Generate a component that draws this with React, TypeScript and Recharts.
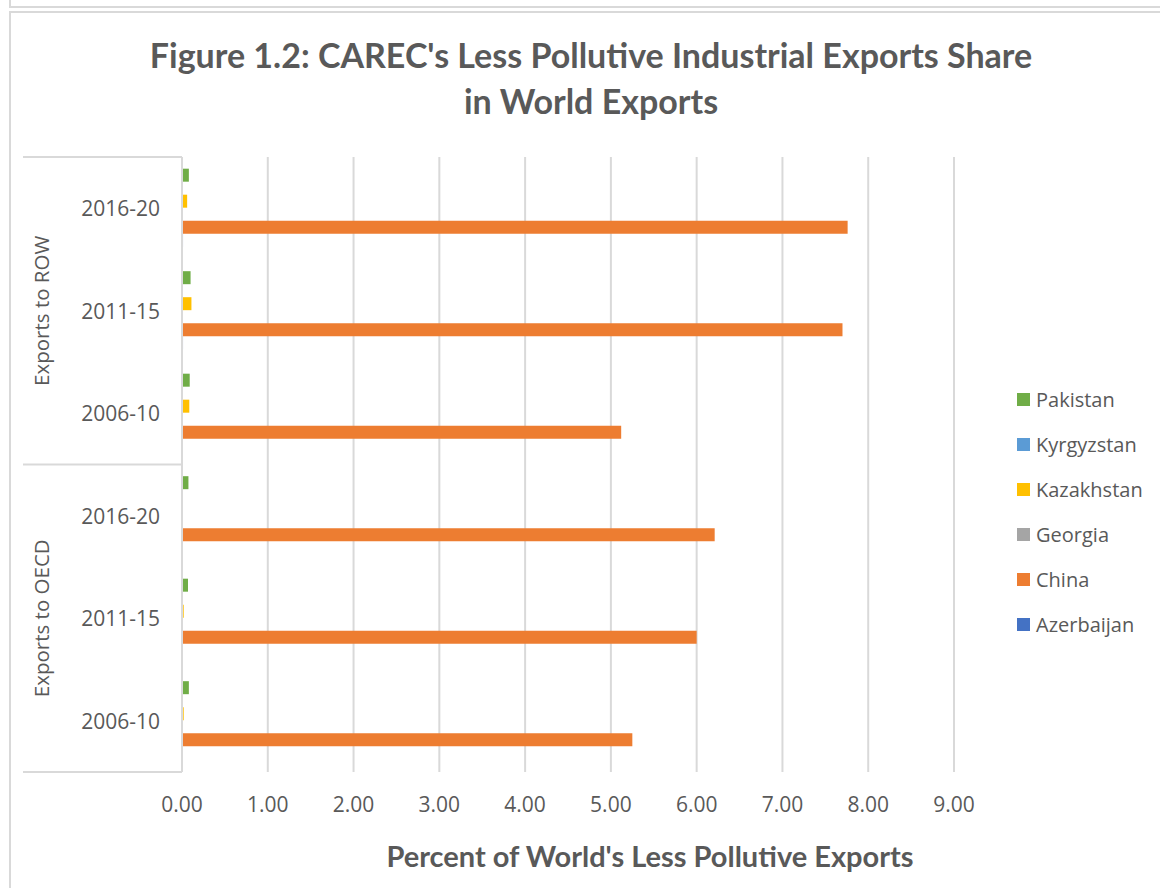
import { BarChart, Bar, XAxis, YAxis, CartesianGrid } from 'recharts';

// category rows, listed top to bottom as drawn
const groups = ['Exports to ROW', 'Exports to ROW', 'Exports to ROW', 'Exports to OECD', 'Exports to OECD', 'Exports to OECD'];
const periods = ['2016-20', '2011-15', '2006-10', '2016-20', '2011-15', '2006-10'];

// share of world's less pollutive exports, percent
const pakistan = [0.08, 0.10, 0.09, 0.075, 0.07, 0.08];
const kyrgyzstan = [0.001, 0.002, 0.001, 0.0005, 0.0005, 0.0005];
const kazakhstan = [0.06, 0.11, 0.085, 0.004, 0.02, 0.02];
const georgia = [0.005, 0.004, 0.003, 0.002, 0.002, 0.002];
const china = [7.76, 7.7, 5.12, 6.21, 6.0, 5.25];
const azerbaijan = [0.012, 0.012, 0.008, 0.002, 0.002, 0.002];

const xTicks = [0, 1, 2, 3, 4, 5, 6, 7, 8, 9];

const series = [
  { key: 'Pakistan', values: pakistan, color: '#70AD47' },
  { key: 'Kyrgyzstan', values: kyrgyzstan, color: '#5B9BD5' },
  { key: 'Kazakhstan', values: kazakhstan, color: '#FFC000' },
  { key: 'Georgia', values: georgia, color: '#A5A5A5' },
  { key: 'China', values: china, color: '#ED7D31' },
  { key: 'Azerbaijan', values: azerbaijan, color: '#4472C4' },
];

const data = periods.map((p, i) => {
  const row: Record<string, string | number> = { id: `${groups[i]} ${p}`, period: p, group: groups[i] };
  series.forEach((s) => {
    row[s.key] = s.values[i];
  });
  return row;
});

const W = 1160;
const H = 888;
const MARGIN = { top: 157, right: 206, bottom: 76, left: 0 };
const Y_AXIS_W = 182;
const X_AXIS_H = 40;
const PLOT_H = H - MARGIN.top - MARGIN.bottom - X_AXIS_H;
const BAND = PLOT_H / data.length;

const TEXT = '#595959';
const LINE = '#d9d9d9';
const FONT = '"Open Sans", sans-serif';
const TITLE_FONT = 'Lato, sans-serif';

function CategoryTick(props: any) {
  const { x, y, index } = props;
  const row = data[index];
  const firstOfGroup = index === 0 || data[index - 1].group !== row.group;
  const midOfGroup = index % 3 === 1;
  const last = index === data.length - 1;
  return (
    <g>
      <text x={x} y={y} textAnchor="end" dominantBaseline="central" fill={TEXT} fontSize={21} fontFamily={FONT}>
        {row.period}
      </text>
      {firstOfGroup && <line x1={23} x2={Y_AXIS_W} y1={y - BAND / 2} y2={y - BAND / 2} stroke={LINE} strokeWidth={2} />}
      {last && <line x1={23} x2={Y_AXIS_W} y1={y + BAND / 2} y2={y + BAND / 2} stroke={LINE} strokeWidth={2} />}
      {midOfGroup && (
        <text
          x={41}
          y={y}
          transform={`rotate(-90 41 ${y})`}
          textAnchor="middle"
          dominantBaseline="central"
          fill={TEXT}
          fontSize={20.5}
          fontFamily={FONT}
        >
          {row.group}
        </text>
      )}
    </g>
  );
}

export default function App() {
  return (
    <div style={{ position: 'absolute', left: 0, top: 0, width: W, height: H, background: '#fff', overflow: 'hidden' }}>
      <div style={{ position: 'absolute', left: 9, top: -10, width: W, height: 16, borderLeft: `2px solid ${LINE}`, borderBottom: `2px solid ${LINE}` }} />
      <div style={{ position: 'absolute', left: 9, top: 11, width: W, height: H, borderLeft: `2px solid ${LINE}`, borderTop: `2px solid ${LINE}` }} />

      <div
        style={{
          position: 'absolute',
          left: 0,
          top: 32,
          width: 1182,
          textAlign: 'center',
          fontFamily: TITLE_FONT,
          fontWeight: 700,
          fontSize: 34,
          lineHeight: '46px',
          color: TEXT,
        }}
      >
        Figure 1.2: CAREC's Less Pollutive Industrial Exports Share
        <br />
        in World Exports
      </div>

      <BarChart
        style={{ position: 'absolute', left: 0, top: 0 }}
        width={W}
        height={H}
        data={data}
        layout="vertical"
        margin={MARGIN}
        barCategoryGap="11.4%"
        barGap={0}
      >
        <CartesianGrid horizontal={false} stroke={LINE} strokeWidth={2} />
        <XAxis
          type="number"
          domain={[0, 9]}
          ticks={xTicks}
          height={X_AXIS_H}
          axisLine={false}
          tickLine={false}
          tickSize={0}
          tickMargin={25}
          tickFormatter={(v: number) => v.toFixed(2)}
          tick={{ fill: TEXT, fontSize: 21, fontFamily: FONT }}
        />
        <YAxis
          type="category"
          dataKey="id"
          width={Y_AXIS_W}
          axisLine={{ stroke: LINE, strokeWidth: 2 }}
          tickLine={false}
          tickSize={0}
          tickMargin={22}
          interval={0}
          tick={<CategoryTick />}
        />
        {series.map((s) => (
          <Bar key={s.key} dataKey={s.key} fill={s.color} isAnimationActive={false} />
        ))}
      </BarChart>

      <div
        style={{
          position: 'absolute',
          left: 0,
          top: 836,
          width: 1300,
          textAlign: 'center',
          fontFamily: TITLE_FONT,
          fontWeight: 700,
          fontSize: 29,
          lineHeight: '40px',
          color: TEXT,
        }}
      >
        Percent of World's Less Pollutive Exports
      </div>

      <div style={{ position: 'absolute', left: 1017, top: 377, fontFamily: FONT, fontSize: 20, color: TEXT }}>
        {series.map((s) => (
          <div key={s.key} style={{ display: 'flex', alignItems: 'center', height: 45 }}>
            <span style={{ display: 'inline-block', width: 13, height: 13, background: s.color, marginRight: 6 }} />
            <span style={{ lineHeight: '24px' }}>{s.key}</span>
          </div>
        ))}
      </div>
    </div>
  );
}
